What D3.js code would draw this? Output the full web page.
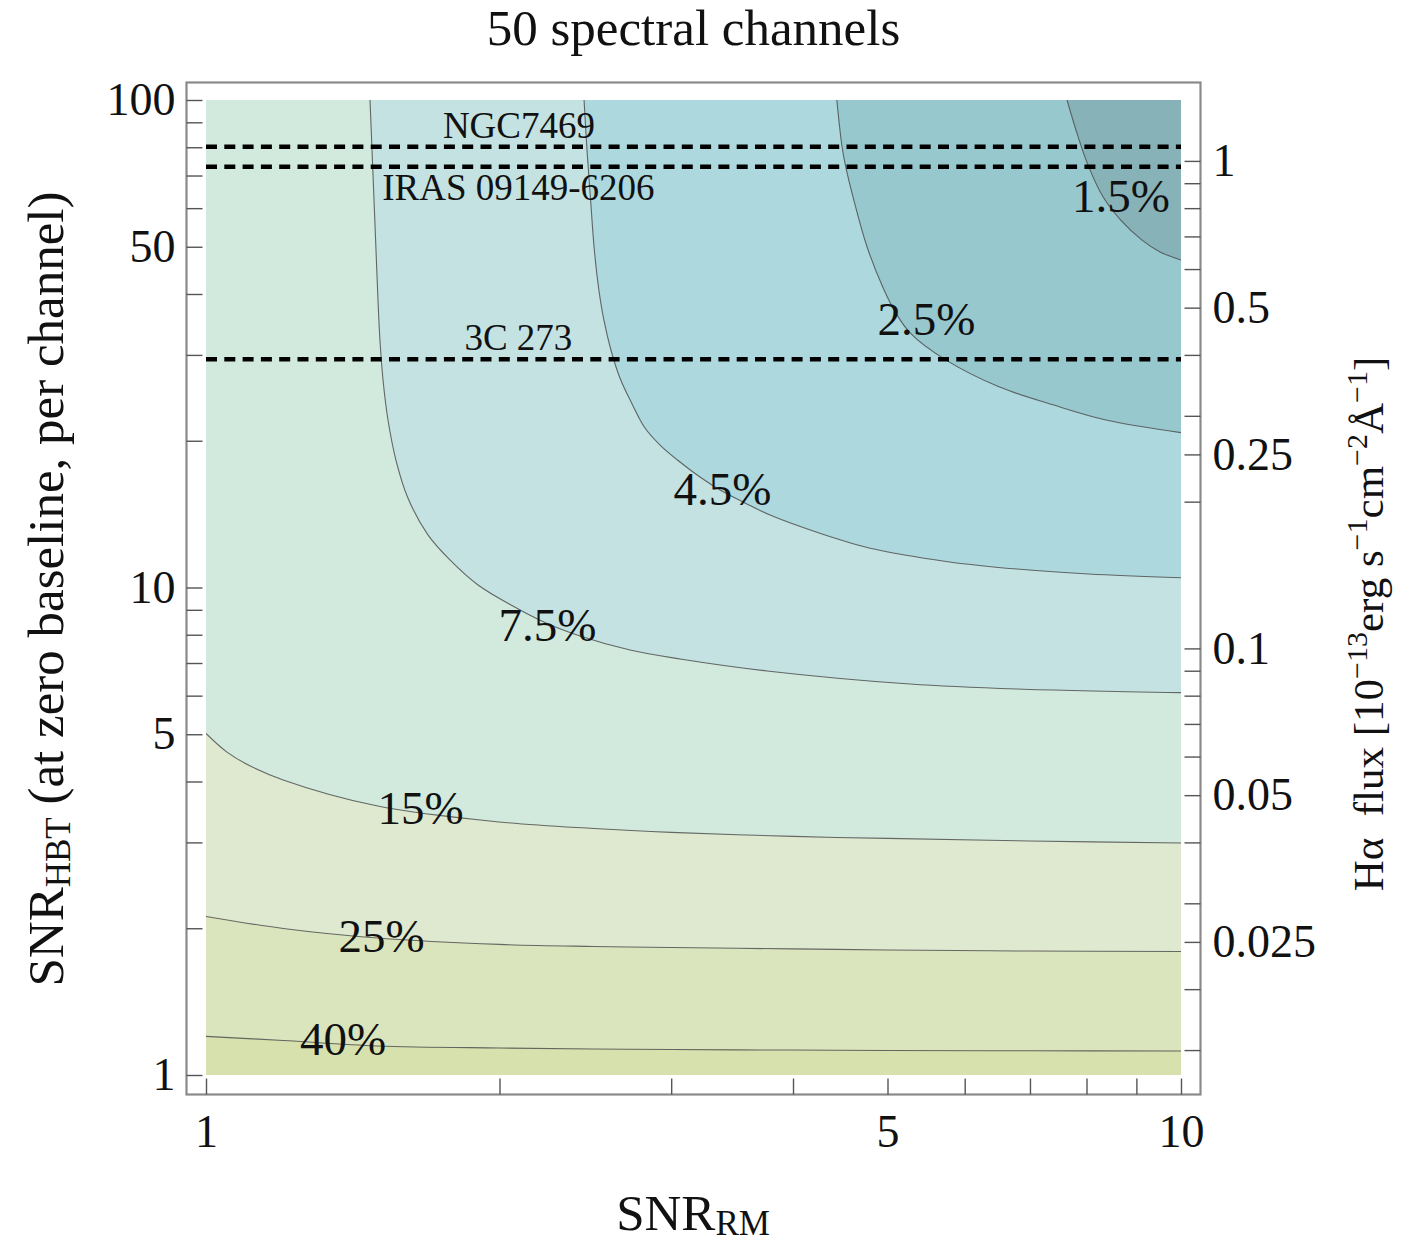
<!DOCTYPE html>
<html>
<head>
<meta charset="utf-8">
<script src="https://cdn.jsdelivr.net/npm/d3@7"></script>
<style>
  html, body { margin: 0; padding: 0; background: #fff; }
  svg { display: block; font-family: "Liberation Serif", "Times New Roman", serif; }
</style>
</head>
<body>
<svg id="chart" width="1416" height="1244"></svg>
<script>
// Relative error contours in the SNR_RM / SNR_HBT plane (50 spectral channels)

// contour levels, from the noisiest band to the best one
const levels = ["40%", "25%", "15%", "7.5%", "4.5%", "2.5%", "1.5%"];

// each contour traced as [SNR_RM, SNR_HBT] pairs
const contour40 = [[1, 1.200], [1.2, 1.177], [1.5, 1.147], [2, 1.136], [2.5, 1.131], [3, 1.128], [4, 1.125], [5, 1.123], [7, 1.121], [10, 1.120]];
const contour25 = [[1, 2.114], [1.2, 1.998], [1.5, 1.910], [2, 1.853], [2.5, 1.835], [3, 1.826], [4, 1.814], [5, 1.805], [7, 1.796], [10, 1.792]];
const contour15 = [[1, 5.02], [1.05, 4.60], [1.1, 4.345], [1.2, 4.03], [1.5, 3.563], [2, 3.304], [2.5, 3.203], [3, 3.145], [4, 3.086], [5, 3.057], [7, 3.020], [10, 2.992]];
const contour7_5 = [[1.473, 100], [1.480, 78.99], [1.487, 62.35], [1.494, 49.24], [1.501, 38.89], [1.508, 32.19], [1.519, 26.65], [1.537, 22.06], [1.566, 18.26], [1.611, 15.26], [1.689, 12.82], [1.779, 11.39], [1.901, 10.12], [2.064, 9.165], [2.232, 8.457], [2.419, 7.954], [2.722, 7.443], [3.063, 7.135], [3.762, 6.743], [5.274, 6.339], [6.789, 6.190], [10, 6.085]];
const contour4_5 = [[2.442, 100], [2.459, 78.99], [2.480, 62.35], [2.502, 49.24], [2.529, 40.76], [2.559, 35.38], [2.602, 30.70], [2.658, 26.90], [2.729, 24.02], [2.820, 21.24], [2.922, 19.60], [3.063, 18.09], [3.211, 16.85], [3.367, 15.85], [3.571, 14.91], [3.789, 14.08], [4.283, 12.88], [4.843, 11.99], [5.741, 11.31], [6.789, 10.91], [8.04, 10.66], [10, 10.47]];
const contour2_5 = [[4.436, 100], [4.491, 80.2], [4.530, 73.0], [4.626, 61.5], [4.764, 50.0], [4.948, 41.2], [5.098, 36.6], [5.274, 33.3], [5.737, 29.3], [6.506, 25.8], [7.391, 23.7], [8.377, 22.06], [10, 20.78]];
const contour1_5 = [[7.640, 100], [7.842, 84.1], [8.04, 73.0], [8.318, 63.3], [8.673, 56.7], [9.120, 51.6], [9.516, 48.8], [10, 46.97]];

// where each level's label sits, [SNR_RM, SNR_HBT] of the text's centre baseline
const levelLabelAt = [[1.382, 1.099], [1.514, 1.788], [1.660, 3.273], [2.240, 7.77], [3.386, 14.77], [5.483, 32.96], [8.679, 58.9]];

// observed sources marked as horizontal dashed lines
const sources = ["NGC7469", "IRAS 09149-6206", "3C 273"];
const sourceSNR = [80.2, 73.0, 29.4];
const sourceLabelSide = ["above", "below", "above"];
const sourceLabelRM = [2.094, 2.091, 2.091];

// axis ticks
const snrRMTicks = [1, 2, 3, 4, 5, 6, 7, 8, 9, 10];
const snrRMLabels = [1, 5, 10];
const snrHBTTicks = [1, 2, 3, 4, 5, 6, 7, 8, 9, 10, 20, 30, 40, 50, 60, 70, 80, 90, 100];
const snrHBTLabels = [1, 5, 10, 50, 100];
const fluxTicks = [1, 0.9, 0.8, 0.7, 0.6, 0.5, 0.4, 0.3, 0.25, 0.2, 0.1, 0.09, 0.08, 0.07, 0.06, 0.05, 0.04, 0.03, 0.025, 0.02, 0.015];
const fluxLabels = [1, 0.5, 0.25, 0.1, 0.05, 0.025];
const snrPerUnitFlux = 75; // SNR_HBT reached by a line flux of 1e-13 erg/s/cm2/A

// fill of each band, from >40% to <1.5%
const bandColors = ["#d6e1ad", "#dae5bd", "#dee9d0", "#d2eadd", "#c3e2e1", "#acd8de", "#97c8ce", "#87b2b8"];

const contours = [contour40, contour25, contour15, contour7_5, contour4_5, contour2_5, contour1_5];

const svg = d3.select("#chart");

const x = d3.scaleLog().domain([1, 10]).range([206, 1181]);
const y = d3.scaleLog().domain([1, 100]).range([1075, 100]);
const yFlux = d3.scaleLog().domain(y.domain().map(v => v / snrPerUnitFlux)).range(y.range());

const frame = { left: 186.5, right: 1200.5, top: 82.5, bottom: 1094.5 };

svg.append("defs").append("clipPath").attr("id", "plotClip")
  .append("rect")
  .attr("x", x.range()[0]).attr("y", y.range()[1])
  .attr("width", x.range()[1] - x.range()[0])
  .attr("height", y.range()[0] - y.range()[1]);

const plot = svg.append("g").attr("clip-path", "url(#plotClip)");

// base band (largest error)
plot.append("rect")
  .attr("x", x.range()[0]).attr("y", y.range()[1])
  .attr("width", x.range()[1] - x.range()[0])
  .attr("height", y.range()[0] - y.range()[1])
  .attr("fill", bandColors[0]);

const curve = d3.line()
  .x(d => x(d[0]))
  .y(d => y(d[1]))
  .curve(d3.curveCatmullRom.alpha(0.5));

const [xMin, xMax] = x.domain();
const yMax = y.domain()[1];

// each contour closes toward the top-right corner, painting the better band over the worse one
contours.forEach((c, i) => {
  let d = curve(c) + `L${x(xMax)},${y(yMax)}`;
  if (c[0][0] === xMin) d += `L${x(xMin)},${y(yMax)}`;
  d += "Z";
  plot.append("path").attr("d", d).attr("fill", bandColors[i + 1]).attr("stroke", "none");
});

// contour lines
contours.forEach(c => {
  plot.append("path")
    .attr("d", curve(c))
    .attr("fill", "none")
    .attr("stroke", "#505050")
    .attr("stroke-opacity", 0.85)
    .attr("stroke-width", 1.1);
});

// source lines
sources.forEach((name, i) => {
  const yy = y(sourceSNR[i]);
  plot.append("line")
    .attr("x1", x(xMin)).attr("x2", x(xMax))
    .attr("y1", yy).attr("y2", yy)
    .attr("stroke", "#000")
    .attr("stroke-width", 4.5)
    .attr("stroke-dasharray", "11 7.3");
  svg.append("text")
    .attr("x", x(sourceLabelRM[i]))
    .attr("y", sourceLabelSide[i] === "above" ? yy - 9 : yy + 33)
    .attr("text-anchor", "middle")
    .attr("font-size", 37)
    .attr("fill", "#111")
    .text(name);
});

// level labels
levels.forEach((lab, i) => {
  svg.append("text")
    .attr("x", x(levelLabelAt[i][0]))
    .attr("y", y(levelLabelAt[i][1]))
    .attr("text-anchor", "middle")
    .attr("font-size", 47)
    .attr("fill", "#111")
    .text(lab);
});

// frame
svg.append("rect")
  .attr("x", frame.left).attr("y", frame.top)
  .attr("width", frame.right - frame.left)
  .attr("height", frame.bottom - frame.top)
  .attr("fill", "none")
  .attr("stroke", "#8a8a8a")
  .attr("stroke-width", 2.2);

function styleAxis(g) {
  g.select(".domain").remove();
  g.attr("font-family", null).attr("font-size", null);
  g.selectAll(".tick line").attr("stroke", "#555").attr("stroke-width", 1.4);
  g.selectAll(".tick text").attr("fill", "#111").attr("font-size", 46);
}

svg.append("g")
  .attr("transform", `translate(${frame.left},0)`)
  .call(d3.axisLeft(y).tickValues(snrHBTTicks).tickSize(-16).tickPadding(11)
    .tickFormat(d => snrHBTLabels.includes(d) ? String(d) : ""))
  .call(styleAxis);

svg.append("g")
  .attr("transform", `translate(0,${frame.bottom})`)
  .call(d3.axisBottom(x).tickValues(snrRMTicks).tickSize(-16).tickPadding(20)
    .tickFormat(d => snrRMLabels.includes(d) ? String(d) : ""))
  .call(styleAxis);

svg.append("g")
  .attr("transform", `translate(${frame.right},0)`)
  .call(d3.axisRight(yFlux).tickValues(fluxTicks).tickSize(-16).tickPadding(12)
    .tickFormat(d => fluxLabels.includes(d) ? String(d) : ""))
  .call(styleAxis);

// title
svg.append("text")
  .attr("x", (x.range()[0] + x.range()[1]) / 2)
  .attr("y", 45)
  .attr("text-anchor", "middle")
  .attr("font-size", 51)
  .attr("fill", "#111")
  .text("50 spectral channels");

// x axis title
const xt = svg.append("text")
  .attr("x", 693).attr("y", 1230)
  .attr("text-anchor", "middle")
  .attr("font-size", 51)
  .attr("fill", "#111");
xt.append("tspan").text("SNR");
xt.append("tspan").attr("font-size", 35).attr("dy", 5).text("RM");

// left axis title
const ylt = svg.append("text")
  .attr("transform", "translate(63,589) rotate(-90)")
  .attr("text-anchor", "middle")
  .attr("font-size", 51)
  .attr("fill", "#111");
ylt.append("tspan").text("SNR");
ylt.append("tspan").attr("font-size", 35).attr("dy", 7).text("HBT");
ylt.append("tspan").attr("dy", -7).text(" (at zero baseline, per channel)");

// right axis title
const yrt = svg.append("text")
  .attr("transform", "translate(1383,624) rotate(-90)")
  .attr("text-anchor", "middle")
  .attr("font-size", 43)
  .attr("fill", "#111");
const sup = (txt) => {
  yrt.append("tspan").attr("font-size", 30).attr("dy", -16).text(txt);
};
const base = (txt) => {
  yrt.append("tspan").attr("dy", 16).text(txt);
};
yrt.append("tspan").text("H\u03b1\u2002flux [10");
sup("\u221213");
base("erg s");
sup("\u22121");
base("cm");
sup("\u22122");
base("\u00c5");
sup("\u22121");
base("]");
</script>
</body>
</html>
